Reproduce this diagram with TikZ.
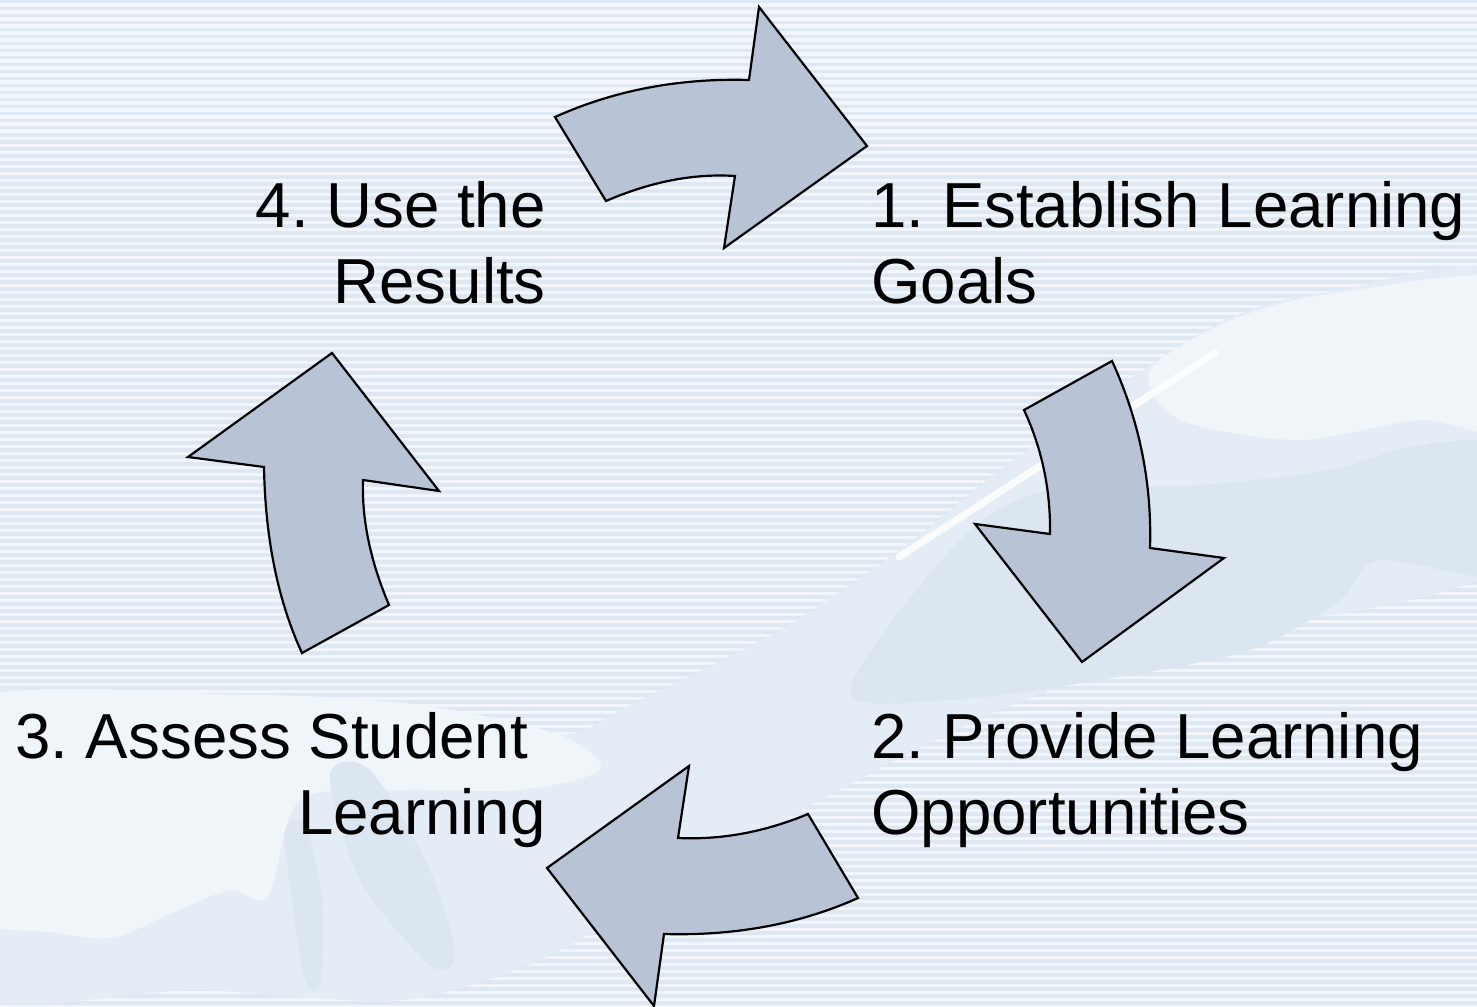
\documentclass[tikz,border=0pt]{standalone}
\usepackage{fontspec}
\setmainfont{Liberation Sans}
\usepackage{pgf,tikz}
\frenchspacing
\definecolor{arrowfill}{RGB}{184,196,214}
\definecolor{stripelight}{RGB}{242,246,251}
\definecolor{stripedark}{RGB}{221,232,243}
\definecolor{handmid}{RGB}{228,236,245}
\definecolor{handpale}{RGB}{240,245,250}
\definecolor{handshade}{RGB}{220,230,241}

\begin{document}
\begin{tikzpicture}[line cap=round,line join=round,x=0.02cm,y=-0.02cm]
\tikzstyle{myarrow}=[draw=black,line width=1.25pt,fill=arrowfill,line join=miter]
\tikzstyle{mylabel}=[inner sep=0pt,font=\fontsize{36.2}{42.7}\selectfont]
\useasboundingbox (0,0) rectangle (1477,1007);
% striped background
\fill[stripelight] (0,0) rectangle (1477,1007);
\foreach \y in {0,7,...,1001}
  \fill[stripedark] (0,\y) rectangle (1477,\y+3.5);
% faint hands
\begin{scope}
\clip (0,0) rectangle (1477,1007);
\fill[handmid] plot[smooth cycle,tension=0.5] coordinates {(1520,280) (1330,292) (1230,318) (1120,385) (1000,470) (900,550) (780,630) (640,700) (560,735) (420,705) (250,695) (80,700) (-40,705) (-40,985) (200,990) (400,1000) (540,960) (680,880) (820,800) (1000,710) (1200,640) (1520,555)};
\fill[handpale] plot[smooth cycle,tension=0.5] coordinates {(-40,705) (250,695) (420,705) (560,735) (600,770) (520,790) (400,790) (300,800) (268,897) (230,890) (172,913) (115,937) (57,933) (-40,905)};
\fill[handpale] plot[smooth cycle,tension=0.5] coordinates {(1520,282) (1330,294) (1232,320) (1150,370) (1180,420) (1300,440) (1420,420) (1520,430)};
\fill[handshade] plot[smooth cycle,tension=0.5] coordinates {(960,540) (1050,490) (1200,485) (1330,470) (1420,445) (1520,450) (1520,575) (1380,560) (1340,600) (1250,650) (1100,680) (950,700) (850,690)};
\fill[handshade] plot[smooth cycle,tension=0.5] coordinates {(330,775) (370,770) (430,870) (455,955) (430,965) (360,880)};
\fill[handshade] plot[smooth cycle,tension=0.5] coordinates {(285,830) (305,825) (322,900) (320,985) (305,980) (292,900)};
\draw[white,line width=4pt,opacity=0.8] (899,557) -- (1215,353);
\end{scope}
% arrows of the cycle
\draw[myarrow] (555,117) .. controls (614.3,90.3) and (679,78) .. (749,80) -- (759,7) -- (867,146) -- (724,248) -- (735,176) .. controls (693.7,173.3) and (650.7,181.7) .. (606,201) -- cycle;
\draw[myarrow] (1050,534) .. controls (1050.7,490) and (1042,448.7) .. (1024,410) -- (1112,361) .. controls (1139.3,420.3) and (1152,482.7) .. (1150,548) -- (1224,558) -- (1082,662) -- (975,524) -- cycle;
\draw[myarrow] (547,868) -- (689,766) -- (678,838) .. controls (721.3,840) and (764.7,832) .. (808,814) -- (858,898) .. controls (800,924) and (735.3,936) .. (664,934) -- (654,1006) -- cycle;
\draw[myarrow] (332,353) -- (439,491) -- (363,480) .. controls (361.7,519.3) and (370.3,561) .. (389,605) -- (302,653) .. controls (278,601) and (265.3,539) .. (264,467) -- (188,457) -- cycle;
% labels (anchored on the last line)
\node[mylabel,anchor=base west,align=left] (goals) at (871,303) {1. Establish Learning\\Goals};
\node[mylabel,anchor=base west,align=left] (opps) at (871,834) {2. Provide Learning\\Opportunities};
\node[mylabel,anchor=base east,align=right] (assess) at (546,834) {3. Assess Student\kern0.278em\\Learning};
\node[mylabel,anchor=base east,align=right] (results) at (546,303) {4. Use the\\Results};
\end{tikzpicture}
\end{document}
